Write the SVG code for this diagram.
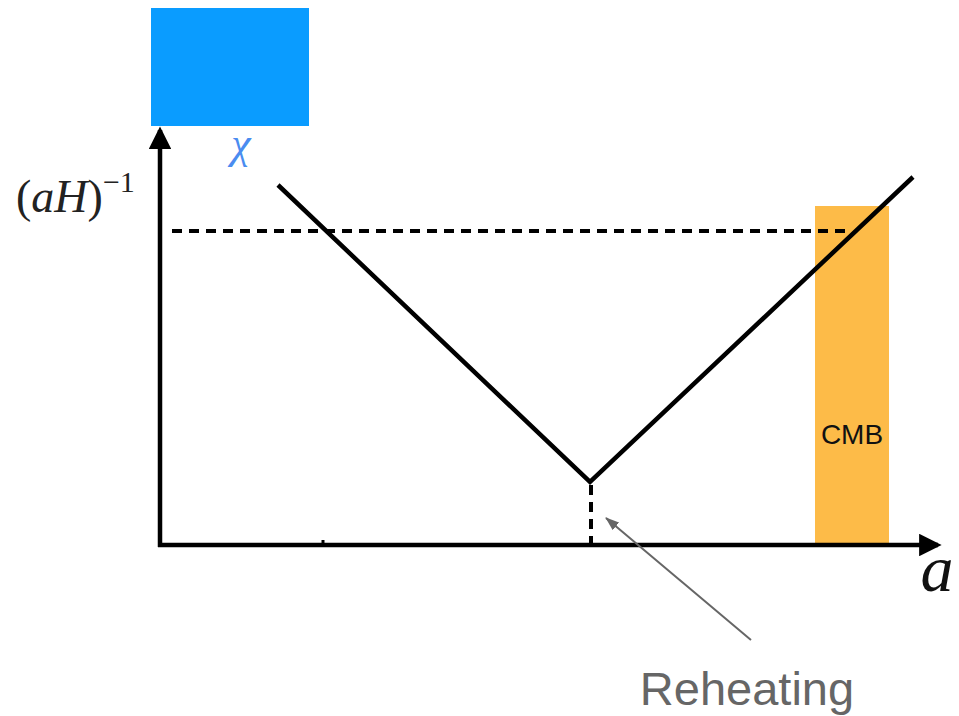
<svg xmlns="http://www.w3.org/2000/svg" width="959" height="716" viewBox="0 0 959 716">
<defs>
<marker id="ah" markerWidth="5" markerHeight="5" refX="4.2" refY="2.5" orient="auto" markerUnits="strokeWidth"><path d="M0,0 L5,2.5 L0,5 Z" fill="#000"/></marker>
<marker id="gh" markerWidth="14" markerHeight="10" refX="13" refY="5" orient="auto" markerUnits="userSpaceOnUse"><path d="M0,0 L14,5 L0,10 Z" fill="#666"/></marker>
</defs>
<style>
.ax{stroke:#000;stroke-width:4.5;fill:none}
.dash{stroke:#000;stroke-width:4;stroke-dasharray:10,7;fill:none}
.math{font-family:"Liberation Serif","DejaVu Serif",serif;font-style:italic}
</style>
<rect width="959" height="716" fill="#fff"/>
<g id="chi-box">
<rect x="151" y="8" width="158" height="118" fill="#0a9cff"/>
<text x="241" y="158" class="math" font-size="44" fill="#4a8cf0" text-anchor="middle">χ</text>
</g>
<g id="cmb">
<rect x="815" y="206" width="74" height="337" fill="#fdbb48"/>
<text x="852" y="444" font-family="Liberation Sans, Arial, sans-serif" font-size="28" fill="#111" text-anchor="middle">CMB</text>
</g>
<g id="axes">
<line x1="160" y1="547" x2="160" y2="130" class="ax" marker-end="url(#ah)"/>
<line x1="158" y1="545" x2="938" y2="545" class="ax" marker-end="url(#ah)"/>
<line x1="323" y1="540" x2="323" y2="545" stroke="#000" stroke-width="3"/>
<text x="16" y="212" font-family="Liberation Serif, serif" font-size="46" fill="#222">(<tspan class="math">aH</tspan>)<tspan font-size="30" dy="-20">−1</tspan></text>
<text x="937" y="591" class="math" font-size="66" fill="#111" text-anchor="middle">a</text>
</g>
<g id="connectors">
<line x1="172" y1="231" x2="852" y2="231" class="dash"/>
<polyline points="278,185 590,482 913,177" class="ax"/>
<line x1="591" y1="485" x2="591" y2="547" class="dash"/>
<line x1="751" y1="640" x2="606" y2="518" stroke="#666" stroke-width="2" marker-end="url(#gh)"/>
</g>
<g id="reheating">
<text x="747" y="705" font-family="Liberation Sans, Arial, sans-serif" font-size="47" fill="#666" text-anchor="middle">Reheating</text>
</g>
</svg>
